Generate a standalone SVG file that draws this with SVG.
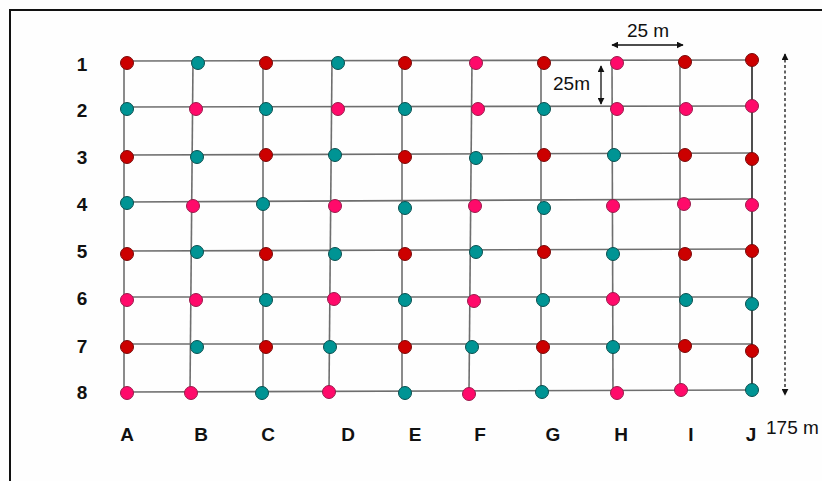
<svg xmlns="http://www.w3.org/2000/svg" width="822" height="481" viewBox="0 0 822 481">
<style>
.bg{fill:#fefefe}
.frame{fill:none;stroke:#111;stroke-width:2}
.grid line{stroke:#6e6e6e;stroke-width:1.6}
.grid line.dk{stroke:#222}
.r{fill:#cc0000;stroke:#7a0a0a;stroke-width:1}
.t{fill:#009494;stroke:#0a4f4f;stroke-width:1}
.p{fill:#ff0a6a;stroke:#9a1a4a;stroke-width:1}
.lbl{font-family:"Liberation Sans",Arial,sans-serif;font-weight:bold;font-size:19px;fill:#111;text-anchor:middle}
.dim{font-family:"Liberation Sans",Arial,sans-serif;font-size:19px;fill:#111}
.arr{stroke:#111;stroke-width:1.3;fill:none}
</style>
<defs>
<marker id="ah" viewBox="0 0 10 10" refX="9" refY="5" markerWidth="7" markerHeight="7" orient="auto-start-reverse" markerUnits="userSpaceOnUse">
<path d="M0,0 L10,5 L0,10 z" fill="#111"/>
</marker>
</defs>
<rect class="bg" x="0" y="0" width="822" height="481"/>
<path class="frame" d="M10,481 V10 H822"/>

<g id="connectors" class="grid">
<line x1="124" y1="61" x2="752" y2="60"/>
<line x1="124" y1="107" x2="752" y2="106"/>
<line x1="124" y1="155" x2="752" y2="153"/>
<line x1="124" y1="202" x2="752" y2="199"/>
<line x1="124" y1="251" x2="752" y2="249"/>
<line x1="124" y1="297" x2="752" y2="297"/>
<line x1="124" y1="344" x2="752" y2="344"/>
<line x1="124" y1="392" x2="752" y2="390"/>
<line x1="124" y1="61" x2="124" y2="392"/>
<line x1="193" y1="61" x2="190" y2="392"/>
<line x1="263" y1="61" x2="263" y2="392"/>
<line x1="332" y1="61" x2="329" y2="392"/>
<line x1="402" y1="61" x2="402" y2="392"/>
<line x1="472" y1="61" x2="469" y2="392"/>
<line x1="541" y1="61" x2="541" y2="392"/>
<line x1="612" y1="61" x2="613" y2="392"/>
<line x1="680" y1="61" x2="680" y2="390"/>
<line class="dk" x1="752" y1="60" x2="752" y2="390"/>
</g>

<g id="nodes">
<g id="A1"><circle class="r" cx="127" cy="63" r="6.5"/></g>
<g id="B1"><circle class="t" cx="198" cy="63" r="6.5"/></g>
<g id="C1"><circle class="r" cx="266" cy="63" r="6.5"/></g>
<g id="D1"><circle class="t" cx="338" cy="63" r="6.5"/></g>
<g id="E1"><circle class="r" cx="405" cy="63" r="6.5"/></g>
<g id="F1"><circle class="p" cx="476" cy="63" r="6.5"/></g>
<g id="G1"><circle class="r" cx="544" cy="63" r="6.5"/></g>
<g id="H1"><circle class="p" cx="617" cy="63" r="6.5"/></g>
<g id="I1"><circle class="r" cx="685" cy="62" r="6.5"/></g>
<g id="J1"><circle class="r" cx="752" cy="60" r="6.5"/></g>

<g id="A2"><circle class="t" cx="127" cy="109" r="6.5"/></g>
<g id="B2"><circle class="p" cx="196" cy="109" r="6.5"/></g>
<g id="C2"><circle class="t" cx="266" cy="109" r="6.5"/></g>
<g id="D2"><circle class="p" cx="338" cy="109" r="6.5"/></g>
<g id="E2"><circle class="t" cx="405" cy="109" r="6.5"/></g>
<g id="F2"><circle class="p" cx="478" cy="109" r="6.5"/></g>
<g id="G2"><circle class="t" cx="544" cy="109" r="6.5"/></g>
<g id="H2"><circle class="p" cx="617" cy="109" r="6.5"/></g>
<g id="I2"><circle class="p" cx="686" cy="109" r="6.5"/></g>
<g id="J2"><circle class="p" cx="752" cy="106" r="6.5"/></g>

<g id="A3"><circle class="r" cx="127" cy="157" r="6.5"/></g>
<g id="B3"><circle class="t" cx="197" cy="157" r="6.5"/></g>
<g id="C3"><circle class="r" cx="266" cy="155" r="6.5"/></g>
<g id="D3"><circle class="t" cx="335" cy="155" r="6.5"/></g>
<g id="E3"><circle class="r" cx="405" cy="157" r="6.5"/></g>
<g id="F3"><circle class="t" cx="476" cy="158" r="6.5"/></g>
<g id="G3"><circle class="r" cx="544" cy="155" r="6.5"/></g>
<g id="H3"><circle class="t" cx="614" cy="155" r="6.5"/></g>
<g id="I3"><circle class="r" cx="685" cy="155" r="6.5"/></g>
<g id="J3"><circle class="r" cx="752" cy="159" r="6.5"/></g>

<g id="A4"><circle class="t" cx="127" cy="203" r="6.5"/></g>
<g id="B4"><circle class="p" cx="193" cy="206" r="6.5"/></g>
<g id="C4"><circle class="t" cx="263" cy="204" r="6.5"/></g>
<g id="D4"><circle class="p" cx="335" cy="206" r="6.5"/></g>
<g id="E4"><circle class="t" cx="405" cy="208" r="6.5"/></g>
<g id="F4"><circle class="p" cx="475" cy="206" r="6.5"/></g>
<g id="G4"><circle class="t" cx="544" cy="208" r="6.5"/></g>
<g id="H4"><circle class="p" cx="613" cy="206" r="6.5"/></g>
<g id="I4"><circle class="p" cx="684" cy="204" r="6.5"/></g>
<g id="J4"><circle class="p" cx="752" cy="205" r="6.5"/></g>

<g id="A5"><circle class="r" cx="127" cy="254" r="6.5"/></g>
<g id="B5"><circle class="t" cx="197" cy="252" r="6.5"/></g>
<g id="C5"><circle class="r" cx="266" cy="254" r="6.5"/></g>
<g id="D5"><circle class="t" cx="335" cy="254" r="6.5"/></g>
<g id="E5"><circle class="r" cx="405" cy="254" r="6.5"/></g>
<g id="F5"><circle class="t" cx="476" cy="252" r="6.5"/></g>
<g id="G5"><circle class="r" cx="544" cy="252" r="6.5"/></g>
<g id="H5"><circle class="t" cx="613" cy="254" r="6.5"/></g>
<g id="I5"><circle class="r" cx="685" cy="254" r="6.5"/></g>
<g id="J5"><circle class="r" cx="752" cy="251" r="6.5"/></g>

<g id="A6"><circle class="p" cx="127" cy="300" r="6.5"/></g>
<g id="B6"><circle class="p" cx="196" cy="300" r="6.5"/></g>
<g id="C6"><circle class="t" cx="266" cy="300" r="6.5"/></g>
<g id="D6"><circle class="p" cx="334" cy="299" r="6.5"/></g>
<g id="E6"><circle class="t" cx="405" cy="300" r="6.5"/></g>
<g id="F6"><circle class="p" cx="474" cy="301" r="6.5"/></g>
<g id="G6"><circle class="t" cx="543" cy="300" r="6.5"/></g>
<g id="H6"><circle class="p" cx="613" cy="299" r="6.5"/></g>
<g id="I6"><circle class="t" cx="686" cy="300" r="6.5"/></g>
<g id="J6"><circle class="t" cx="752" cy="304" r="6.5"/></g>

<g id="A7"><circle class="r" cx="127" cy="347" r="6.5"/></g>
<g id="B7"><circle class="t" cx="197" cy="347" r="6.5"/></g>
<g id="C7"><circle class="r" cx="266" cy="347" r="6.5"/></g>
<g id="D7"><circle class="t" cx="330" cy="347" r="6.5"/></g>
<g id="E7"><circle class="r" cx="405" cy="347" r="6.5"/></g>
<g id="F7"><circle class="t" cx="472" cy="347" r="6.5"/></g>
<g id="G7"><circle class="r" cx="543" cy="347" r="6.5"/></g>
<g id="H7"><circle class="t" cx="613" cy="347" r="6.5"/></g>
<g id="I7"><circle class="r" cx="685" cy="346" r="6.5"/></g>
<g id="J7"><circle class="r" cx="752" cy="351" r="6.5"/></g>

<g id="A8"><circle class="p" cx="127" cy="393" r="6.5"/></g>
<g id="B8"><circle class="p" cx="191" cy="393" r="6.5"/></g>
<g id="C8"><circle class="t" cx="262" cy="393" r="6.5"/></g>
<g id="D8"><circle class="p" cx="329" cy="392" r="6.5"/></g>
<g id="E8"><circle class="t" cx="405" cy="393" r="6.5"/></g>
<g id="F8"><circle class="p" cx="469" cy="394" r="6.5"/></g>
<g id="G8"><circle class="t" cx="542" cy="392" r="6.5"/></g>
<g id="H8"><circle class="p" cx="617" cy="393" r="6.5"/></g>
<g id="I8"><circle class="p" cx="681" cy="390" r="6.5"/></g>
<g id="J8"><circle class="t" cx="752" cy="390" r="6.5"/></g>
</g>

<g id="row-labels">
<text class="lbl" x="82" y="71">1</text>
<text class="lbl" x="82" y="117">2</text>
<text class="lbl" x="82" y="164">3</text>
<text class="lbl" x="82" y="211">4</text>
<text class="lbl" x="82" y="258">5</text>
<text class="lbl" x="82" y="305">6</text>
<text class="lbl" x="82" y="353">7</text>
<text class="lbl" x="82" y="399">8</text>
</g>
<g id="col-labels">
<text class="lbl" x="127" y="441">A</text>
<text class="lbl" x="201" y="441">B</text>
<text class="lbl" x="268" y="441">C</text>
<text class="lbl" x="348" y="441">D</text>
<text class="lbl" x="415" y="441">E</text>
<text class="lbl" x="480" y="441">F</text>
<text class="lbl" x="553" y="441">G</text>
<text class="lbl" x="621" y="441">H</text>
<text class="lbl" x="691" y="441">I</text>
<text class="lbl" x="751" y="441">J</text>
</g>

<g id="dimensions">
<line class="arr" x1="612" y1="45" x2="683" y2="45" marker-start="url(#ah)" marker-end="url(#ah)"/>
<text class="dim" x="648" y="37" text-anchor="middle">25 m</text>
<line class="arr" x1="601" y1="66" x2="601" y2="104" marker-start="url(#ah)" marker-end="url(#ah)"/>
<text class="dim" x="553" y="90">25m</text>
<line class="arr" x1="785" y1="54" x2="785" y2="395" stroke-dasharray="3,2.5" stroke-width="1" marker-start="url(#ah)" marker-end="url(#ah)"/>
<text class="dim" x="766" y="434">175 m</text>
</g>
</svg>
